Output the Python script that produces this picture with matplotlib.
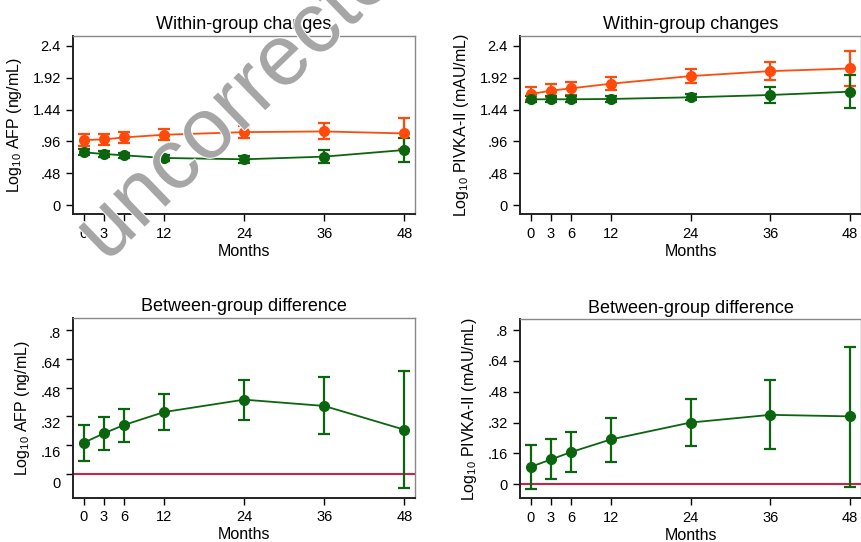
import numpy as np
import matplotlib
matplotlib.use("Agg")
import matplotlib.pyplot as plt
import matplotlib.patheffects as pe
from matplotlib.transforms import ScaledTranslation

plt.rcParams['font.family'] = ['Liberation Sans', 'DejaVu Sans']
plt.rcParams['mathtext.fontset'] = 'custom'
plt.rcParams['mathtext.rm'] = 'Liberation Sans'
plt.rcParams['mathtext.it'] = 'Liberation Sans'

# data
months = [0, 3, 6, 12, 24, 36, 48]

afp_orange = [0.98, 0.99, 1.02, 1.06, 1.10, 1.11, 1.08]
afp_orange_err = [0.085, 0.08, 0.078, 0.085, 0.095, 0.12, 0.23]
afp_green = [0.795, 0.77, 0.75, 0.71, 0.69, 0.73, 0.83]
afp_green_err = [0.043, 0.04, 0.04, 0.05, 0.055, 0.10, 0.18]

pivka_orange = [1.675, 1.725, 1.76, 1.83, 1.945, 2.02, 2.06]
pivka_orange_err = [0.098, 0.098, 0.098, 0.098, 0.108, 0.135, 0.265]
pivka_green = [1.595, 1.595, 1.595, 1.60, 1.625, 1.66, 1.71]
pivka_green_err = [0.045, 0.045, 0.045, 0.045, 0.048, 0.115, 0.25]

afp_diff = [0.174, 0.226, 0.272, 0.344, 0.413, 0.378, 0.246]
afp_diff_lo = [0.074, 0.135, 0.180, 0.244, 0.302, 0.222, -0.078]
afp_diff_hi = [0.272, 0.319, 0.363, 0.446, 0.520, 0.539, 0.574]

pivka_diff = [0.090, 0.128, 0.166, 0.232, 0.320, 0.360, 0.352]
pivka_diff_lo = [-0.023, 0.024, 0.061, 0.114, 0.196, 0.182, -0.014]
pivka_diff_hi = [0.203, 0.234, 0.272, 0.345, 0.443, 0.540, 0.715]

within_ticks = [0, 0.48, 0.96, 1.44, 1.92, 2.4]
within_labels = ['0', '.48', '.96', '1.44', '1.92', '2.4']
diff_ticks = [0, 0.16, 0.32, 0.48, 0.64, 0.8]
diff_labels = ['0', '.16', '.32', '.48', '.64', '.8']

orange = '#ff4a0c'
green = '#0b650f'
red = '#c8234a'

fig = plt.figure(figsize=(8.62, 5.42), dpi=100)
ax_tl = fig.add_axes([0.085, 0.6046, 0.3964, 0.329])
ax_tr = fig.add_axes([0.6036, 0.6046, 0.395, 0.329])
ax_bl = fig.add_axes([0.085, 0.0817, 0.3964, 0.331])
ax_br = fig.add_axes([0.6036, 0.0806, 0.395, 0.330])


def style(ax, title, ylabel, ticks, labels, ylim):
    ax.set_xlim(-1.6, 49.6)
    ax.set_ylim(*ylim)
    ax.set_xticks(months)
    ax.set_yticks(ticks)
    ax.set_yticklabels(labels)
    ax.set_title(title, fontsize=13, pad=5)
    ax.set_xlabel('Months', fontsize=11.5, labelpad=2)
    ax.set_ylabel(ylabel, fontsize=11.5, labelpad=6)
    ax.tick_params(labelsize=10.5, length=5, width=1, direction='out', pad=4)
    for s in ['left', 'bottom']:
        ax.spines[s].set_linewidth(1.4)
        ax.spines[s].set_color('#222222')
    for s in ['top', 'right']:
        ax.spines[s].set_linewidth(1.0)
        ax.spines[s].set_color('#888888')


def err_line(ax, y, e, color):
    ax.errorbar(months, y, yerr=e, color=color, marker='o', ms=7, lw=1.3,
                elinewidth=1.6, capsize=4.5, capthick=1.6, zorder=3)


afp_ylabel = r'Log$_{10}$ AFP (ng/mL)'
pivka_ylabel = r'Log$_{10}$ PIVKA-II (mAU/mL)'

style(ax_tl, 'Within-group changes', afp_ylabel, within_ticks, within_labels, (-0.14, 2.55))
err_line(ax_tl, afp_orange, afp_orange_err, orange)
err_line(ax_tl, afp_green, afp_green_err, green)

style(ax_tr, 'Within-group changes', pivka_ylabel, within_ticks, within_labels, (-0.14, 2.55))
err_line(ax_tr, pivka_orange, pivka_orange_err, orange)
err_line(ax_tr, pivka_green, pivka_green_err, green)

style(ax_bl, 'Between-group difference', afp_ylabel, diff_ticks, diff_labels, (-0.132, 0.865))
ax_bl.axhline(0, color=red, lw=1.5, zorder=2)
d = np.array(afp_diff)
ax_bl.errorbar(months, d, yerr=[d - np.array(afp_diff_lo), np.array(afp_diff_hi) - d],
               color=green, marker='o', ms=7, lw=1.3, elinewidth=1.6, capsize=4.5,
               capthick=1.6, zorder=3)
# tick labels in this panel sit a bit below their ticks in the reference
for lab, dy in zip(ax_bl.get_yticklabels(), [9, 6, 6, 4, 4, 2]):
    lab.set_transform(lab.get_transform() + ScaledTranslation(0, -dy / 100, fig.dpi_scale_trans))

style(ax_br, 'Between-group difference', pivka_ylabel, diff_ticks, diff_labels, (-0.074, 0.856))
ax_br.axhline(0, color=red, lw=1.5, zorder=2)
d = np.array(pivka_diff)
ax_br.errorbar(months, d, yerr=[d - np.array(pivka_diff_lo), np.array(pivka_diff_hi) - d],
               color=green, marker='o', ms=7, lw=1.3, elinewidth=1.6, capsize=4.5,
               capthick=1.6, zorder=3)

# watermark
fig.text(106 / 862, 1 - 264 / 542, 'uncorrected', fontsize=62, color='#a6a6a6',
         rotation=44, rotation_mode='anchor', ha='left', va='baseline', zorder=10,
         path_effects=[pe.withStroke(linewidth=1.5, foreground='white')])

fig.savefig('out.png', dpi=100)
